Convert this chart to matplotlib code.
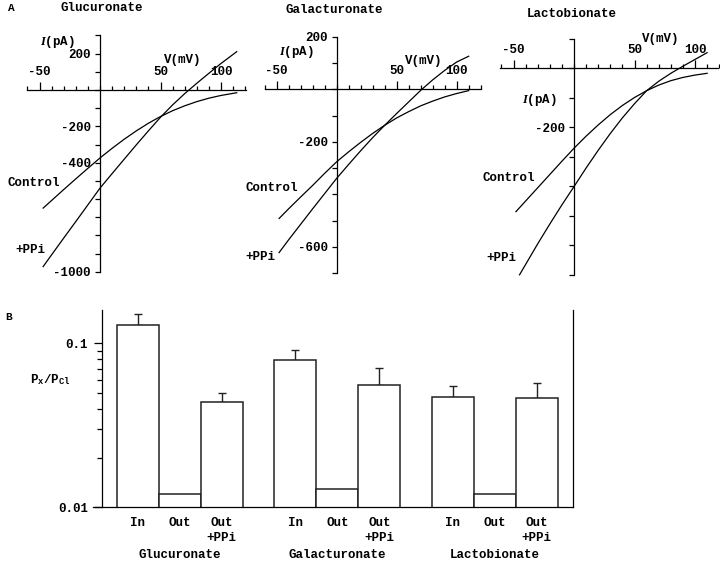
import matplotlib
matplotlib.use("Agg")
import matplotlib.pyplot as plt
from matplotlib.ticker import FixedLocator, NullFormatter, FixedFormatter

plt.rcParams["font.family"] = ["Liberation Mono", "DejaVu Sans Mono"]
plt.rcParams["font.weight"] = "bold"
plt.rcParams["font.size"] = 9
plt.rcParams["axes.unicode_minus"] = False
plt.rcParams["mathtext.fontset"] = "custom"
plt.rcParams["mathtext.it"] = "Liberation Serif:italic:bold"
plt.rcParams["mathtext.rm"] = "Liberation Mono:bold"

# ---- panel A data: I-V curves (mV, pA) ----
volts_glu = [-47, -40, -30, -20, -10, 0, 10, 20, 30, 40, 50, 60, 70, 80, 90, 100, 113]
control_glu = [-650, -608, -548, -489, -431, -374, -321, -271, -225, -183, -146, -114, -87, -64, -45, -30, -15]
ppi_glu = [-972, -907, -815, -724, -632, -540, -460, -381, -302, -225, -150, -82, -20, 37, 92, 146, 211]

volts_gal = [-48, -40, -30, -20, -10, 0, 10, 20, 30, 40, 50, 60, 70, 80, 90, 100, 110]
control_gal = [-492, -455, -410, -366, -320, -276, -238, -202, -168, -137, -109, -85, -63, -45, -29, -16, -5]
ppi_gal = [-622, -573, -514, -455, -397, -339, -286, -234, -184, -137, -92, -48, -4, 36, 72, 104, 126]

volts_lac = [-48, -40, -30, -20, -10, 0, 10, 20, 30, 40, 50, 60, 70, 80, 90, 100, 110]
control_lac = [-486, -450, -405, -360, -315, -271, -230, -192, -157, -126, -99, -76, -57, -42, -31, -23, -17]
volts_lac_ppi = [-45, -40, -30, -20, -10, 0, 10, 20, 30, 40, 50, 60, 70, 80, 90, 100, 110]
ppi_lac = [-700, -665, -595, -528, -463, -401, -338, -278, -221, -168, -120, -76, -44, -17, 7, 30, 53]

# ---- panel B data: permeability ratios ----
anions = ["Glucuronate", "Galacturonate", "Lactobionate"]
conditions = ["In", "Out", "Out\n+PPi"]
ratio_glu = [0.130, 0.0119, 0.0438]
ratio_gal = [0.0787, 0.0129, 0.0555]
ratio_lac = [0.0472, 0.0119, 0.0466]
err_glu = [0.020, 0, 0.0059]
err_gal = [0.0119, 0, 0.0150]
err_lac = [0.0079, 0, 0.0107]

W, H = 720, 563
fig = plt.figure(figsize=(7.2, 5.63), dpi=100)


def ftext(x, y, s, **kw):
    kw.setdefault("ha", "left")
    kw.setdefault("va", "center")
    fig.text(x / W, 1 - y / H, s, **kw)


def iv_axes(x0, y0, sx, sy, xlim, ylim, xspan, yspan, ylabeled):
    # x0, y0: pixel of origin; sx px per mV; sy px per pA
    left = x0 + sx * xlim[0]
    right = x0 + sx * xlim[1]
    top = y0 - sy * ylim[1]
    bottom = y0 - sy * ylim[0]
    ax = fig.add_axes([left / W, 1 - bottom / H, (right - left) / W, (bottom - top) / H])
    ax.set_xlim(xlim)
    ax.set_ylim(ylim)
    ax.patch.set_alpha(0)
    for s in ["bottom", "right"]:
        ax.spines[s].set_visible(False)
    ax.spines["top"].set_position(("data", 0))
    ax.spines["top"].set_bounds(*xspan)
    ax.spines["left"].set_position(("data", 0))
    ax.spines["left"].set_bounds(*yspan)
    for s in ["top", "left"]:
        ax.spines[s].set_linewidth(0.9)
    ax.xaxis.set_ticks_position("top")
    ax.xaxis.set_major_locator(FixedLocator([-50, 50, 100]))
    ax.xaxis.set_minor_locator(FixedLocator(list(range(-60, 121, 10))))
    ax.tick_params(axis="x", which="major", direction="out", length=5.5, width=0.9, pad=3)
    ax.tick_params(axis="x", which="minor", direction="out", length=3, width=0.9)
    ax.yaxis.set_major_locator(FixedLocator(ylabeled))
    ax.yaxis.set_minor_locator(FixedLocator(list(range(yspan[0], yspan[1] + 1, 100))))
    ax.tick_params(axis="y", which="both", direction="out", length=3.5, width=0.9, pad=3)
    return ax


# Glucuronate
ax1 = iv_axes(100, 90, 1.21, 0.1817, (-62, 125), (-1030, 320), (-60, 121), (-1000, 300),
              [200, -200, -400, -1000])
ax1.plot(volts_glu, control_glu, color="black", lw=0.9)
ax1.plot(volts_glu, ppi_glu, color="black", lw=0.9)

# Galacturonate
ax2 = iv_axes(336.7, 89.3, 1.2, 0.2625, (-62, 124), (-720, 215), (-60, 120), (-700, 200),
              [200, -200, -600])
ax2.plot(volts_gal, control_gal, color="black", lw=0.9)
ax2.plot(volts_gal, ppi_gal, color="black", lw=0.9)

# Lactobionate
ax3 = iv_axes(574, 68.3, 1.21, 0.295, (-63, 121), (-720, 110), (-61, 119), (-700, 100),
              [-200])
ax3.plot(volts_lac, control_lac, color="black", lw=0.9)
ax3.plot(volts_lac_ppi, ppi_lac, color="black", lw=0.9)

# panel A text
ftext(8, 8, "A", fontsize=8)
ftext(102, 8, "Glucuronate", ha="center")
ftext(334, 10, "Galacturonate", ha="center")
ftext(572, 14, "Lactobionate", ha="center")
ftext(183, 60, "V(mV)", ha="center")
ftext(424, 61, "V(mV)", ha="center")
ftext(661, 39, "V(mV)", ha="center")
ftext(57, 42, r"$I$(pA)", ha="center")
ftext(296, 52, r"$I$(pA)", ha="center")
ftext(539, 100, r"$I$(pA)", ha="center")
ftext(8, 183, "Control")
ftext(15, 250, "+PPi")
ftext(246, 188, "Control")
ftext(245, 257, "+PPi")
ftext(483, 178, "Control")
ftext(486, 258, "+PPi")

# ---- panel B ----
unit = 42.0
c0 = 137.8
xl = ((93 - c0) / unit, (573.3 - c0) / unit)
axb = fig.add_axes([93 / W, 1 - 507.3 / H, 480.3 / W, 197.3 / H])
axb.set_yscale("log")
axb.set_xlim(xl)
axb.set_ylim(0.01, 10 ** (-2 + 197.3 / 164))
axb.spines["top"].set_visible(False)
axb.spines["left"].set_position(("data", (101.7 - c0) / unit))
for s in ["left", "right", "bottom"]:
    axb.spines[s].set_linewidth(0.9)

group_step = 3.75
ratios = [ratio_glu, ratio_gal, ratio_lac]
errs = [err_glu, err_gal, err_lac]
tick_pos, tick_lab = [], []
for g, (vals, ers) in enumerate(zip(ratios, errs)):
    xs = [g * group_step + j for j in range(3)]
    axb.bar(xs, vals, width=1.0, bottom=0.0001, color="white", edgecolor="#222222",
            linewidth=1.1, zorder=2)
    for x, v, e in zip(xs, vals, ers):
        if e > 0:
            axb.errorbar([x], [v], yerr=[[0], [e]], fmt="none", ecolor="#222222",
                         elinewidth=1.0, capsize=3, capthick=1.0, zorder=1)
    tick_pos += xs
    tick_lab += conditions
    axb.text(g * group_step + 1, -0.242, anions[g], transform=axb.get_xaxis_transform(),
             ha="center", va="center")

axb.set_xticks(tick_pos)
axb.set_xticklabels(tick_lab, linespacing=1.3)
axb.tick_params(axis="x", length=0, pad=7)
axb.yaxis.set_major_locator(FixedLocator([0.01, 0.1]))
axb.yaxis.set_major_formatter(FixedFormatter(["0.01", "0.1"]))
axb.yaxis.set_minor_locator(FixedLocator([0.02, 0.03, 0.04, 0.05, 0.06, 0.07, 0.08, 0.09]))
axb.yaxis.set_minor_formatter(NullFormatter())
axb.tick_params(axis="y", which="major", direction="out", length=6, width=0.9, pad=4)
axb.tick_params(axis="y", which="minor", direction="out", length=3.5, width=0.9)

ftext(5, 317, "B", fontsize=8)
ftext(30, 380, r"P$_\mathregular{x}$/P$_\mathregular{Cl}$")

fig.savefig("out.png", dpi=100)
